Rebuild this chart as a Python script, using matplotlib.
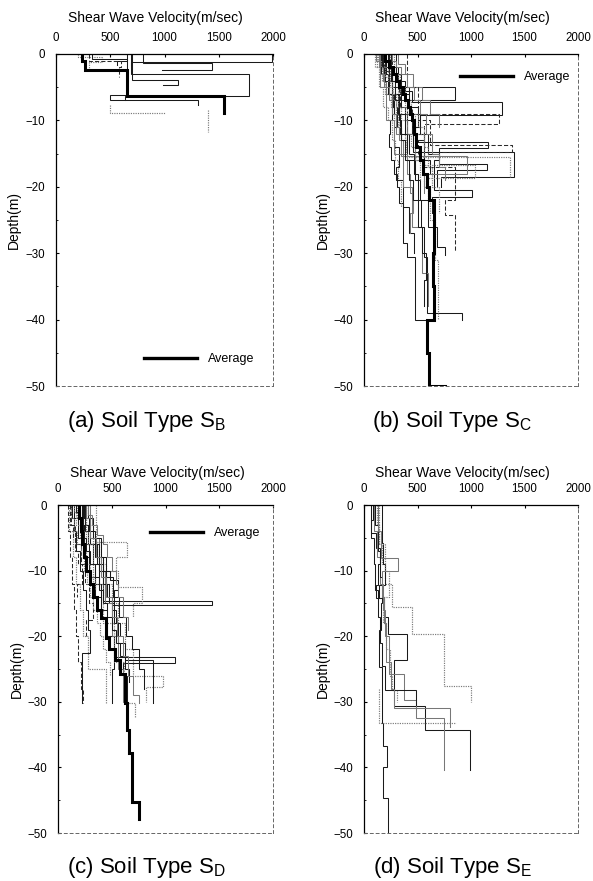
import numpy as np
import matplotlib
matplotlib.use("Agg")
import matplotlib.pyplot as plt
from matplotlib.lines import Line2D

plt.rcParams['font.family'] = ['Liberation Sans', 'DejaVu Sans']
plt.rcParams['mathtext.fontset'] = 'custom'
plt.rcParams['mathtext.rm'] = 'Liberation Sans'

# ---------------- data (depth in m, velocity in m/sec) ----------------
x_ticks = [0, 500, 1000, 1500, 2000]
y_ticks = [0, -10, -20, -30, -40, -50]
x_label = 'Shear Wave Velocity(m/sec)'
y_label = 'Depth(m)'
legend_label = 'Average'
captions = ['(a) Soil Type S$_{\\mathregular{B}}$', '(b) Soil Type S$_{\\mathregular{C}}$',
            '(c) Soil Type S$_{\\mathregular{D}}$', '(d) Soil Type S$_{\\mathregular{E}}$']

# Soil type SB
sb_avg_edges = [0, 1.0, 2.4, 6.4, 8.9]
sb_avg_vel = [240, 265, 650, 1545]
sb_edges = [
    [0, 1.15, 1.6],
    [0, 1.4, 2.4, 2.4],
    [0, 3.06, 6.4, 6.9],
    [0, 3.9, 4.6, 4.6],
    [0, 6.1, 6.9, 7.7],
    [8.4, 11.7],
    [7.7, 8.9, 8.9],
    [0, 0.5, 1.2, 2.4],
    [0, 0.7, 1.1, 1.6],
    [0, 1.0, 2.0, 3.5],
]
sb_vel = [
    [1990, 690],
    [805, 1441, 974],
    [690, 1782, 640],
    [700, 1128, 990],
    [650, 498, 1312],
    [1404],
    [500, 1000],
    [200, 420, 300],
    [330, 650, 560],
    [300, 600, 580],
]
sb_style = ['solid', 'solid', 'solid', 'solid', 'solid', 'dotted', 'dotted', 'dotted', 'solid', 'dashed']

# Soil type SC
sc_avg_edges = [0, 1, 2, 3, 4, 5, 6, 7, 8, 9, 10, 12, 14, 16, 18, 20, 22, 25, 30, 35, 40, 45, 50, 50]
sc_avg_vel = [200, 230, 270, 300, 330, 360, 385, 410, 430, 450, 465, 490, 520, 555, 585, 610, 650,
              655, 645, 650, 585, 610, 760]
sc_edges = [
    [0, 1.5, 3, 4.9, 6.9, 8, 10, 12, 14],
    [0, 2, 4, 5.5, 7.3, 9.2, 11, 13, 16, 18],
    [0, 2.5, 5, 7, 9.0, 10.6, 13, 15],
    [0, 2, 5, 8, 11, 13.2, 14.2, 16, 20.5, 21.5, 24],
    [0, 3, 6, 9, 12, 14.7, 18.5, 20],
    [0, 2, 4, 6, 8, 10, 12, 15.5, 18.5],
    [0, 3, 6, 9, 12, 15, 16.5, 17.5, 20],
    [0, 4, 8, 12, 17, 22, 24.3, 29.8],
    [0, 2, 4, 6, 9, 12, 15.3, 18, 21],
    [0, 3, 6, 9, 12, 16.7, 18.7, 22],
    [0, 2, 4, 6, 8, 10, 12, 14, 16, 18, 20, 22.5, 28.5, 30.5, 40, 40],
    [0, 3, 6, 9, 12, 15, 18, 22, 26, 30.5, 39, 40],
    [0, 4, 8, 12, 16, 20, 25, 31, 40],
    [0, 3, 6, 9, 12, 16, 19, 22, 26, 29, 30.3],
    [0, 2, 5, 8, 10, 13, 16, 19, 23],
    [0, 1.5, 3, 5, 7, 9, 11],
    [0, 5, 10, 13.7, 14.7, 16],
    [0, 2, 4, 6, 8, 11, 14, 17, 19, 23, 27, 30],
    [0, 5, 10, 15, 20, 26, 33, 38],
    [0, 1, 2, 3.5, 5, 7, 9, 11, 13, 15],
    [0, 1, 2, 3, 5, 7, 9, 12, 15, 17, 19],
    [0, 2, 4, 6, 8, 10, 12, 14, 16, 19],
    [0, 1, 3, 5, 7, 9, 11, 13, 15, 18, 21, 24, 27],
    [0, 2, 3, 5, 7, 9, 11, 14, 17, 20, 24],
    [0, 2, 4, 7, 10, 13, 16, 19, 22, 26, 30, 34, 38],
]
sc_vel = [
    [150, 190, 260, 850, 420, 380, 450, 400],
    [230, 300, 380, 450, 1290, 520, 480, 560, 620],
    [180, 260, 330, 400, 1260, 560, 500],
    [250, 320, 420, 500, 480, 1160, 700, 650, 1010, 640],
    [200, 260, 320, 400, 460, 1400, 720],
    [120, 170, 200, 250, 280, 330, 380, 1365],
    [300, 350, 420, 520, 600, 700, 1150, 680],
    [260, 340, 450, 560, 850, 757, 850],
    [140, 180, 210, 260, 300, 350, 960, 560],
    [280, 340, 380, 480, 560, 1040, 600],
    [170, 200, 230, 270, 260, 240, 230, 250, 280, 310, 330, 368, 400, 477, 650],
    [210, 260, 330, 380, 420, 470, 500, 530, 560, 586, 913],
    [240, 320, 400, 480, 560, 620, 660, 695],
    [160, 220, 280, 340, 400, 480, 520, 600, 680, 757],
    [100, 140, 180, 220, 260, 290, 320, 350],
    [320, 380, 460, 540, 620, 700],
    [400, 500, 620, 1381, 700],
    [180, 230, 290, 350, 310, 280, 330, 300, 360, 420, 470],
    [150, 210, 280, 360, 450, 540, 600],
    [130, 160, 200, 240, 270, 300, 320, 350, 390],
    [260, 300, 350, 400, 470, 520, 580, 640, 700, 760],
    [190, 220, 260, 300, 350, 400, 440, 480, 520],
    [110, 150, 190, 230, 260, 300, 330, 360, 400, 430, 460, 430],
    [240, 280, 320, 380, 440, 500, 560, 600, 640, 700],
    [220, 250, 290, 330, 350, 380, 420, 460, 500, 540, 580, 560],
]
sc_style = ['solid', 'solid', 'dashed', 'solid', 'solid', 'dotted', 'solid', 'dashed', 'gray',
            'dotted', 'solid', 'solid', 'dotted', 'solid', 'dotted', 'gray', 'dashed', 'solid',
            'gray', 'dotted', 'gray', 'dotted', 'gray', 'dotted', 'solid']

# Soil type SD
sd_avg_edges = [0, 2, 4, 6, 8, 10, 12, 14, 16, 17.3, 20.3, 21.9, 23.6, 25.7, 30.2, 34.3, 37.8, 45.2, 47.8]
sd_avg_vel = [195, 210, 225, 245, 265, 295, 330, 360, 400, 450, 470, 530, 580, 620, 640, 660, 690, 750]
sd_edges = [
    [0, 3, 6, 9, 12, 14.7, 15.2, 18],
    [0, 2, 5, 8, 11, 14, 17, 20, 23.1, 24.1, 26, 30],
    [0, 3, 6, 9, 12, 15, 18, 22, 26.1, 27.7, 30],
    [0, 2, 4, 7, 10, 13, 16, 19, 22.6, 30.2],
    [0, 3, 6, 9, 12, 15, 18, 21, 23.6, 30.2],
    [0, 4, 8, 12, 16, 20, 25, 30.2],
    [0, 3, 6, 9, 12, 16, 20, 25, 30.2],
    [0, 5, 10, 15, 20, 25, 30, 38],
    [0, 5.6, 7.9, 10],
    [0, 2, 4, 6, 8, 10, 12.5, 15, 17],
    [0, 2, 4, 6, 8, 10, 11.5, 13, 15],
    [0, 3, 6, 9, 12, 15, 17.5, 20],
    [0, 2, 5, 8, 11, 14, 17, 20, 22, 25, 28],
    [0, 1, 3, 5, 7, 9, 11, 13],
    [0, 2, 4, 6, 8, 10, 12, 14, 16, 18, 20],
    [0, 3, 5, 7, 9, 12, 14],
    [0, 1.5, 3, 4.5, 6, 8, 10, 12, 14, 17, 19],
    [0, 6, 12, 18, 24, 30.2, 32.3],
    [0, 2, 4, 6, 8, 10, 12, 14, 16, 18, 20, 22, 24, 26],
    [0, 1, 3, 5, 7, 9, 11, 13, 15, 17, 19, 21, 23, 25, 27],
    [0, 2, 5, 8, 11, 14, 17, 20, 23, 26, 29, 30.2],
    [0, 4, 8, 12, 16, 20, 24, 28, 30.2],
]
sd_vel = [
    [230, 280, 330, 380, 420, 1430, 500],
    [150, 190, 240, 290, 340, 400, 450, 520, 1090, 600, 640],
    [260, 330, 380, 450, 500, 560, 620, 700, 980, 820],
    [130, 150, 170, 200, 230, 260, 280, 300, 220],
    [250, 300, 360, 420, 470, 520, 560, 620, 886],
    [100, 140, 170, 200, 230, 280, 450],
    [200, 240, 290, 340, 400, 460, 520, 498],
    [300, 380, 440, 500, 560, 600, 654],
    [350, 640, 540],
    [180, 220, 280, 350, 420, 560, 780, 700],
    [240, 290, 340, 380, 420, 480, 560, 520],
    [120, 160, 210, 250, 290, 330, 260],
    [280, 330, 400, 450, 510, 570, 630, 690, 750, 800],
    [150, 170, 200, 230, 260, 300, 340],
    [220, 250, 300, 340, 380, 420, 460, 500, 540, 580],
    [110, 140, 160, 190, 220, 180],
    [280, 320, 360, 420, 460, 500, 540, 560, 600, 650],
    [260, 330, 420, 520, 610, 716],
    [120, 150, 180, 210, 240, 270, 300, 330, 360, 390, 420, 450, 480],
    [170, 200, 230, 260, 300, 340, 380, 420, 460, 500, 540, 580, 620, 660],
    [260, 300, 350, 400, 450, 500, 550, 600, 650, 700, 750],
    [90, 110, 130, 150, 170, 190, 210, 230],
]
sd_style = ['solid', 'solid', 'dotted', 'solid', 'solid', 'dotted', 'solid', 'gray', 'dotted',
            'dotted', 'solid', 'dashed', 'solid', 'dotted', 'solid', 'dashed', 'gray', 'dotted',
            'dotted', 'solid', 'gray', 'dashed']

# Soil type SE
se_edges = [
    [0, 2.3, 4.3, 6.5, 9, 12.2, 14.2, 16],
    [0, 3, 6, 9, 12, 15.5, 19.6, 27.6, 30],
    [0, 5.8, 9, 12.2, 14.2, 17, 19.6, 23.6, 30.7, 34.3, 40.4],
    [0, 4, 8, 12, 16, 20, 25.7, 29.7, 32.4, 40.4],
    [0, 3, 7, 11, 15, 19, 24.7, 33.3, 36.8, 39.9, 44.7, 50],
    [0, 6, 10, 14, 18, 22, 26, 28.2, 30],
    [0, 5, 9, 13, 17, 21, 24.5, 28.2, 30.5],
    [0, 4, 8.1, 10.1, 14, 18, 24, 28, 30.9, 33.8],
    [28, 33.3, 33.3],
]
se_vel = [
    [87, 62, 110, 150, 130, 110, 190],
    [120, 140, 170, 200, 259, 446, 748, 1000],
    [165, 180, 200, 140, 190, 228, 402, 280, 570, 991],
    [90, 120, 150, 180, 200, 230, 377, 487, 748],
    [100, 130, 150, 170, 160, 140, 165, 180, 213, 180, 220],
    [140, 200, 230, 180, 210, 240, 260, 310],
    [70, 90, 100, 130, 150, 170, 200, 487],
    [130, 160, 318, 170, 190, 210, 250, 280, 804],
    [140, 860],
]
se_style = ['solid', 'dotted', 'solid', 'gray', 'solid', 'dotted', 'solid', 'gray', 'dotted']

# ---------------- drawing ----------------
STYLES = {
    'solid': dict(color='#1a1a1a', lw=0.75, ls='-'),
    'gray': dict(color='#777777', lw=0.75, ls='-'),
    'dotted': dict(color='#7a7a7a', lw=0.85, ls=(0, (1.0, 1.0))),
    'dashed': dict(color='#2a2a2a', lw=0.75, ls=(0, (4, 2))),
}


def step_xy(edges, vel):
    e = np.asarray(edges, float)
    v = np.asarray(vel, float)
    y = -np.repeat(e, 2)[1:-1]
    x = np.repeat(v, 2)
    return x, y


def setup_axes(ax):
    ax.set_xlim(0, 2000)
    ax.set_ylim(-50, 0)
    ax.xaxis.tick_top()
    ax.set_xticks(x_ticks)
    ax.set_yticks(y_ticks)
    ax.set_yticks(np.arange(-50, 1, 5), minor=True)
    ax.tick_params(axis='x', which='both', direction='in', length=2, pad=7, labelsize=8.3)
    ax.tick_params(axis='y', which='major', direction='in', length=2, pad=8, labelsize=8.3)
    ax.tick_params(axis='y', which='minor', direction='in', length=1.5)
    ax.set_yticklabels(['0', '\u221210', '\u221220', '\u221230', '\u221240', '\u221250'])
    ax.spines['top'].set_linewidth(0.9)
    ax.spines['left'].set_linewidth(0.9)
    for s in ('right', 'bottom'):
        ax.spines[s].set_linestyle((0, (3, 3)))
        ax.spines[s].set_linewidth(0.7)
        ax.spines[s].set_color('#666666')
    ax.set_ylabel(y_label, fontsize=10)
    ax.yaxis.set_label_coords(-0.16, 0.5)


def draw_panel(ax, edges_list, vel_list, style_list, avg_edges=None, avg_vel=None, legend_xy=None):
    setup_axes(ax)
    for e, v, s in zip(edges_list, vel_list, style_list):
        x, y = step_xy(e, v)
        ax.plot(x, y, **STYLES[s], solid_joinstyle='miter', zorder=2)
    if avg_edges is not None:
        x, y = step_xy(avg_edges, avg_vel)
        ax.plot(x, y, color='black', lw=2.2, solid_joinstyle='miter', zorder=3)
        handle = Line2D([], [], color='black', lw=2.4)
        ax.legend([handle], [legend_label], loc='center left', bbox_to_anchor=legend_xy,
                  frameon=False, fontsize=9, handlelength=4.2, handletextpad=0.9,
                  borderpad=0, borderaxespad=0)


W, H = 593, 881
fig = plt.figure(figsize=(W / 100, H / 100), dpi=100)

ax_a = fig.add_axes([56 / W, 1 - 386 / H, 217 / W, 332 / H])
ax_b = fig.add_axes([364 / W, 1 - 386 / H, 214 / W, 332 / H])
ax_c = fig.add_axes([58 / W, 1 - 833 / H, 215 / W, 328 / H])
ax_d = fig.add_axes([364 / W, 1 - 833 / H, 214 / W, 328 / H])

draw_panel(ax_a, sb_edges, sb_vel, sb_style, sb_avg_edges, sb_avg_vel, (0.406, 0.08))
draw_panel(ax_b, sc_edges, sc_vel, sc_style, sc_avg_edges, sc_avg_vel, (0.449, 0.93))
draw_panel(ax_c, sd_edges, sd_vel, sd_style, sd_avg_edges, sd_avg_vel, (0.428, 0.914))
draw_panel(ax_d, se_edges, se_vel, se_style)

for xc, yc in [(155, 18), (462, 18), (157, 473), (462, 473)]:
    fig.text(xc / W, 1 - yc / H, x_label, ha='center', va='center', fontsize=10)

for cap, (xc, yc) in zip(captions, [(146, 422), (452, 422), (146, 867), (452, 867)]):
    fig.text(xc / W, 1 - yc / H, cap, ha='center', va='center', fontsize=16)

fig.savefig('out.png', dpi=100)
